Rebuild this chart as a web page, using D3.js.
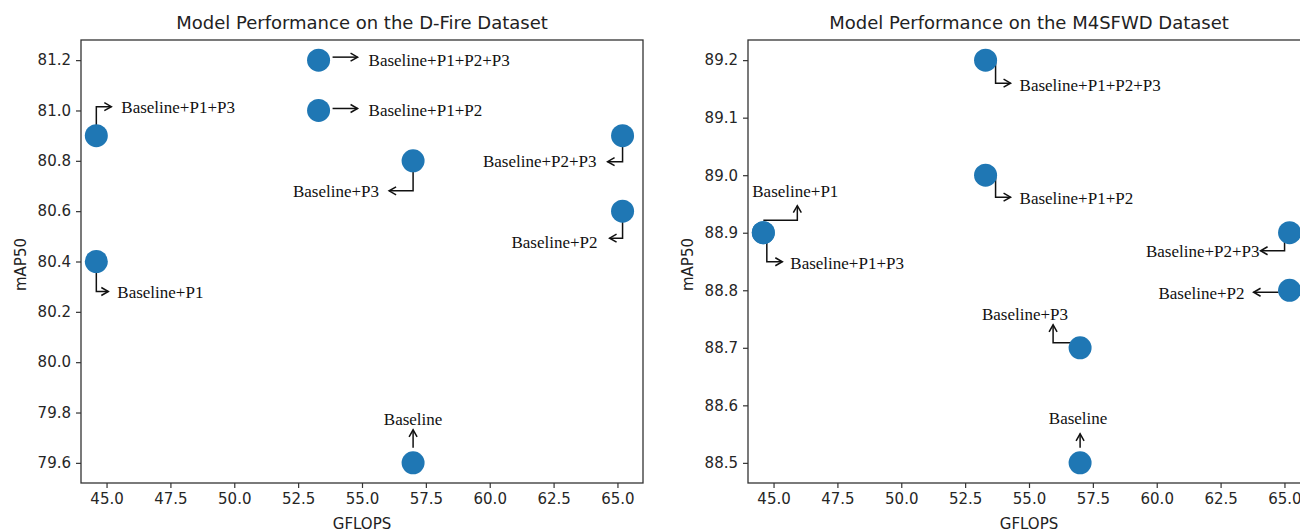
<!DOCTYPE html>
<html>
<head>
<meta charset="utf-8">
<script src="https://cdn.jsdelivr.net/npm/d3@7/dist/d3.min.js"></script>
<style>
  body { margin: 0; background: #fff; }
  .tick text { font-family: "DejaVu Sans", sans-serif; font-size: 15px; fill: #262626; }
  .tick line { stroke: #333; stroke-width: 1.2px; }
</style>
</head>
<body>
<div id="chart"></div>
<script>

// model variants, same order for both datasets
var modelNames = ["Baseline", "Baseline+P1", "Baseline+P2", "Baseline+P3",
  "Baseline+P1+P2", "Baseline+P1+P3", "Baseline+P2+P3", "Baseline+P1+P2+P3"];

var dfireGflops = [57.0, 44.6, 65.2, 57.0, 53.3, 44.6, 65.2, 53.3];
var dfireMap50 = [79.6, 80.4, 80.6, 80.8, 81.0, 80.9, 80.9, 81.2];

var m4sfwdGflops = [57.0, 44.6, 65.2, 57.0, 53.3, 44.6, 65.2, 53.3];
var m4sfwdMap50 = [88.5, 88.9, 88.8, 88.7, 89.0, 88.9, 88.9, 89.2];

var xTicks = [45.0, 47.5, 50.0, 52.5, 55.0, 57.5, 60.0, 62.5, 65.0];
var dfireYTicks = [79.6, 79.8, 80.0, 80.2, 80.4, 80.6, 80.8, 81.2, 81.0];
var m4sfwdYTicks = [88.5, 88.6, 88.7, 88.8, 88.9, 89.0, 89.1, 89.2];

// annotation layout: pixel offsets from the marker centre
// path ends at the arrow tip, text is placed with the given anchor
var dfireLabels = {
  "Baseline":          { path: [[0, -15], [0, -33]], text: [0, -43], anchor: "middle" },
  "Baseline+P1":       { path: [[0, 0], [0, 30], [12, 30]], text: [21, 31], anchor: "start" },
  "Baseline+P2":       { path: [[0, 0], [0, 27], [-13, 27]], text: [-25, 31], anchor: "end" },
  "Baseline+P3":       { path: [[0, 0], [0, 30], [-24, 30]], text: [-34, 31], anchor: "end" },
  "Baseline+P1+P2":    { path: [[14, -2], [39, -2]], text: [50, 0], anchor: "start" },
  "Baseline+P1+P3":    { path: [[0, 0], [0, -29], [15, -29]], text: [25, -28], anchor: "start" },
  "Baseline+P2+P3":    { path: [[0, 0], [0, 26], [-15, 26]], text: [-26, 26], anchor: "end" },
  "Baseline+P1+P2+P3": { path: [[14, -3], [39, -3]], text: [50, 0], anchor: "start" }
};

var m4sfwdLabels = {
  "Baseline":          { path: [[0, -15], [0, -29]], text: [-2, -44], anchor: "middle" },
  "Baseline+P1":       { path: [[0, -12.5], [34, -12.5], [34, -27]], text: [32, -41], anchor: "middle" },
  "Baseline+P2":       { path: [[-11, 2], [-36, 2]], text: [-45, 3], anchor: "end" },
  "Baseline+P3":       { path: [[0, -5], [-27, -5], [-27, -23]], text: [-12, -33], anchor: "end" },
  "Baseline+P1+P2":    { path: [[10, 0], [10, 22], [25, 22]], text: [34, 23], anchor: "start" },
  "Baseline+P1+P3":    { path: [[3.5, 0], [3.5, 29], [19, 29]], text: [27, 31], anchor: "start" },
  "Baseline+P2+P3":    { path: [[-5, 0], [-5, 18], [-29, 18]], text: [-30, 19], anchor: "end" },
  "Baseline+P1+P2+P3": { path: [[10, 0], [10, 23], [25, 23]], text: [34, 25], anchor: "start" }
};

var svgWidth = 1300;
var svgHeight = 530;
var plotTop = 40;
var plotBottom = 483;

var panels = [
  { title: "Model Performance on the D-Fire Dataset", xs: dfireGflops, ys: dfireMap50,
    yTicks: dfireYTicks, yDomain: [79.52, 81.28], labels: dfireLabels, left: 81, right: 643 },
  { title: "Model Performance on the M4SFWD Dataset", xs: m4sfwdGflops, ys: m4sfwdMap50,
    yTicks: m4sfwdYTicks, yDomain: [88.465, 89.235], labels: m4sfwdLabels, left: 748, right: 1310 }
];

var svg = d3.select("#chart")
  .append("svg")
  .attr("width", svgWidth)
  .attr("height", svgHeight);

panels.forEach(function(p) {

  var x = d3.scaleLinear().domain([44.0, 66.0]).range([p.left, p.right]);
  var y = d3.scaleLinear().domain(p.yDomain).range([plotBottom, plotTop]);

  var g = svg.append("g");

  // axes
  g.append("g")
    .attr("transform", `translate(0, ${plotBottom})`)
    .call(d3.axisBottom(x).tickValues(xTicks).tickFormat(d3.format(".1f"))
      .tickSizeOuter(0).tickSize(5).tickPadding(5))
    .call(a => a.select(".domain").remove());

  g.append("g")
    .attr("transform", `translate(${p.left}, 0)`)
    .call(d3.axisLeft(y).tickValues(p.yTicks).tickFormat(d3.format(".1f"))
      .tickSizeOuter(0).tickSize(5).tickPadding(5))
    .call(a => a.select(".domain").remove());

  // frame
  g.append("rect")
    .attr("x", p.left)
    .attr("y", plotTop)
    .attr("width", p.right - p.left)
    .attr("height", plotBottom - plotTop)
    .attr("fill", "none")
    .attr("stroke", "#333")
    .attr("stroke-width", 1.3);

  // titles and axis labels
  var cx = (p.left + p.right) / 2;
  g.append("text")
    .attr("x", cx)
    .attr("y", 29)
    .attr("text-anchor", "middle")
    .style("font-family", "DejaVu Sans, sans-serif")
    .style("font-size", "18px")
    .style("fill", "#222")
    .text(p.title);

  g.append("text")
    .attr("x", cx)
    .attr("y", 529)
    .attr("text-anchor", "middle")
    .style("font-family", "DejaVu Sans, sans-serif")
    .style("font-size", "15px")
    .style("fill", "#222")
    .text("GFLOPS");

  g.append("text")
    .attr("transform", `translate(${p.left - 55}, ${(plotTop + plotBottom) / 2 + 3}) rotate(-90)`)
    .attr("text-anchor", "middle")
    .style("font-family", "DejaVu Sans, sans-serif")
    .style("font-size", "15px")
    .style("fill", "#222")
    .text("mAP50");

  var points = modelNames.map(function(name, i) {
    return { name: name, px: x(p.xs[i]), py: y(p.ys[i]), lay: p.labels[name] };
  });

  // annotation arrows
  var line = d3.line();
  points.forEach(function(d) {
    var pts = d.lay.path.map(q => [d.px + q[0], d.py + q[1]]);
    g.append("path")
      .attr("d", line(pts))
      .attr("fill", "none")
      .attr("stroke", "#111")
      .attr("stroke-width", 1.5);

    // open arrow head at the last point
    var a = pts[pts.length - 2], b = pts[pts.length - 1];
    var ang = Math.atan2(b[1] - a[1], b[0] - a[0]);
    var hl = 7, hw = 4;
    var bx = b[0] - hl * Math.cos(ang), by = b[1] - hl * Math.sin(ang);
    var nx = -Math.sin(ang) * hw, ny = Math.cos(ang) * hw;
    g.append("path")
      .attr("d", line([[bx + nx, by + ny], b, [bx - nx, by - ny]]))
      .attr("fill", "none")
      .attr("stroke", "#111")
      .attr("stroke-width", 1.5);
  });

  // markers
  g.selectAll("circle")
    .data(points)
    .enter()
    .append("circle")
    .attr("cx", d => d.px)
    .attr("cy", d => d.py)
    .attr("r", 11.5)
    .attr("fill", "#1f77b4");

  // labels
  g.selectAll("text.lbl")
    .data(points)
    .enter()
    .append("text")
    .attr("class", "lbl")
    .attr("x", d => d.px + d.lay.text[0])
    .attr("y", d => d.py + d.lay.text[1])
    .attr("dy", "0.33em")
    .attr("text-anchor", d => d.lay.anchor)
    .style("font-family", "Liberation Serif, Times New Roman, serif")
    .style("font-size", "17px")
    .style("fill", "#111")
    .text(d => d.name);
});

</script>
</body>
</html>
